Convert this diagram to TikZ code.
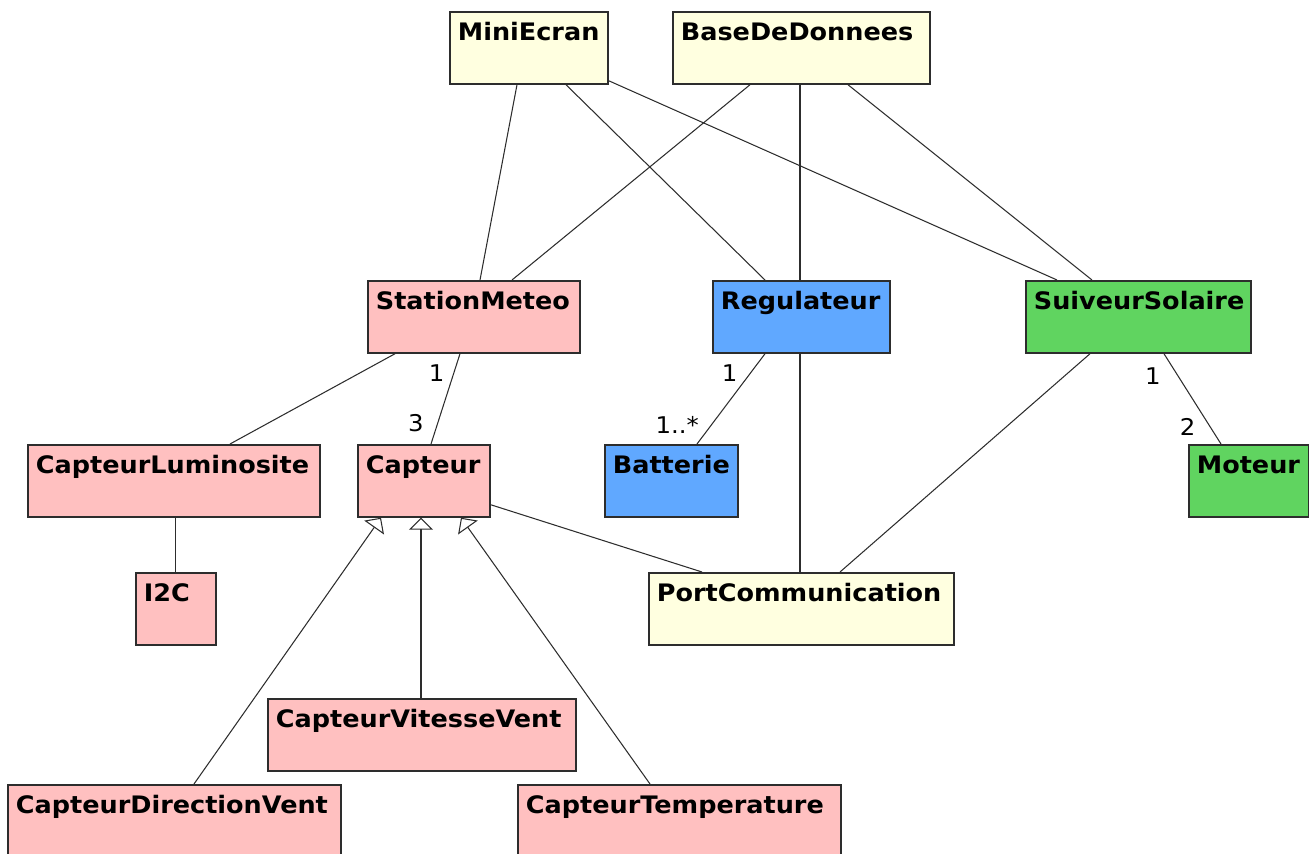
\documentclass[tikz,border=0pt]{standalone}
\usepackage{fontspec}
\setmainfont{DejaVu Sans}[FakeStretch=1.06]
\usepackage{xcolor}
\usetikzlibrary{arrows.meta, positioning, calc}
\definecolor{clspink}{RGB}{255, 192, 192}
\definecolor{clsyellow}{RGB}{255, 255, 224}
\definecolor{clsblue}{RGB}{96, 168, 255}
\definecolor{clsgreen}{RGB}{96, 212, 96}
\definecolor{umlline}{RGB}{45, 45, 45}

\begin{document}
\begin{tikzpicture}[
  x=0.02cm, y=-0.02cm,
  every node/.style={font=\fontsize{13.1}{15}\selectfont},
  cls/.style={
    draw=umlline, line width=1pt, anchor=north west,
    font=\fontsize{13.7}{16}\selectfont\bfseries, align=left,
    inner xsep=0.16cm, inner ysep=0pt,
    text height=0.57cm, text depth=0.87cm
  },
  assoc/.style={draw=umlline, line width=0.6pt},
  inherit/.style={assoc, -{Triangle[open, length=0.24cm, width=0.48cm]}},
  mult/.style={inner sep=0pt, text=black}
]
  \useasboundingbox (0,0) rectangle (1309,854);

  % Classes du haut
  \node[cls, fill=clsyellow, text width=2.84cm] (mini) at (449,11) {MiniEcran};
  \node[cls, fill=clsyellow, text width=4.82cm] (bdd) at (672,11) {BaseDeDonnees};

  % Classes principales
  \node[cls, fill=clspink, text width=3.92cm] (sm) at (367,280) {StationMeteo};
  \node[cls, fill=clsblue, text width=3.22cm] (reg) at (712,280) {Regulateur};
  \node[cls, fill=clsgreen, text width=4.18cm] (sol) at (1025,280) {SuiveurSolaire};

  % Troisieme rangee
  \node[cls, fill=clspink, text width=5.52cm] (lum) at (27,444) {CapteurLuminosite};
  \node[cls, fill=clspink, text width=2.32cm] (cap) at (357,444) {Capteur};
  \node[cls, fill=clsblue, text width=2.34cm] (bat) at (604,444) {Batterie};
  \node[cls, fill=clsgreen, text width=2.08cm] (mot) at (1188,444) {Moteur};

  \node[cls, fill=clspink, text width=1.28cm] (i2c) at (135,572) {I2C};
  \node[cls, fill=clsyellow, text width=5.78cm] (port) at (648,572) {PortCommunication};

  % Sous-classes de Capteur
  \node[cls, fill=clspink, text width=5.84cm] (vit) at (267,698) {CapteurVitesseVent};
  \node[cls, fill=clspink, text width=6.34cm] (dir) at (7,784) {CapteurDirectionVent};
  \node[cls, fill=clspink, text width=6.14cm] (temp) at (517,784) {CapteurTemperature};

  % Associations depuis MiniEcran et BaseDeDonnees
  \draw[assoc] ($(mini.south west)+(68,0)$) -- ($(sm.north west)+(113,0)$);
  \draw[assoc] ($(mini.south west)+(117,0)$) -- ($(reg.north west)+(53,0)$);
  \draw[assoc] ($(mini.south east)+(0,-4)$) -- ($(sol.north west)+(32,0)$);
  \draw[assoc] ($(bdd.south west)+(78,0)$) -- ($(sm.north west)+(145,0)$);
  \draw[assoc] ($(bdd.south west)+(128,0)$) -- ($(reg.north west)+(88,0)$);
  \draw[assoc] ($(bdd.south west)+(176,0)$) -- ($(sol.north west)+(67,0)$);

  % Associations avec multiplicites
  \draw[assoc] ($(sm.south west)+(28,0)$) -- ($(lum.north west)+(203,0)$);
  \draw[assoc] ($(sm.south west)+(93,0)$) -- ($(cap.north west)+(74,0)$)
    node[mult, pos=0.21, left=0.18cm] (m1) {1}
    node[mult, pos=0.77, left=0.27cm] (m3) {3};
  \draw[assoc] ($(reg.south west)+(53,0)$) -- ($(bat.north west)+(93,0)$)
    node[mult, pos=0.22, left=0.24cm] (r1) {1}
    node[mult, pos=0.79, left=0.24cm] (rn) {1..*};
  \draw[assoc] ($(sol.south west)+(139,0)$) -- ($(mot.north west)+(33,0)$)
    node[mult, pos=0.25, left=0.34cm] (s1) {1}
    node[mult, pos=0.815, left=0.29cm] (s2) {2};

  % Liaisons vers PortCommunication et I2C
  \draw[assoc] ($(reg.south west)+(88,0)$) -- ($(port.north west)+(152,0)$);
  \draw[assoc] ($(sol.south west)+(65,0)$) -- ($(port.north west)+(192,0)$);
  \draw[assoc] ($(cap.south east)+(0,-13)$) -- ($(port.north west)+(54,0)$);
  \draw[assoc] (lum.south -| i2c.north) -- (i2c.north);

  % Heritage
  \draw[inherit] ($(dir.north west)+(187,0)$) -- ($(cap.south west)+(24,0)$);
  \draw[inherit] ($(vit.north west)+(154,0)$) -- ($(cap.south west)+(64,0)$);
  \draw[inherit] ($(temp.north west)+(133,0)$) -- ($(cap.south west)+(104,0)$);

\end{tikzpicture}
\end{document}
